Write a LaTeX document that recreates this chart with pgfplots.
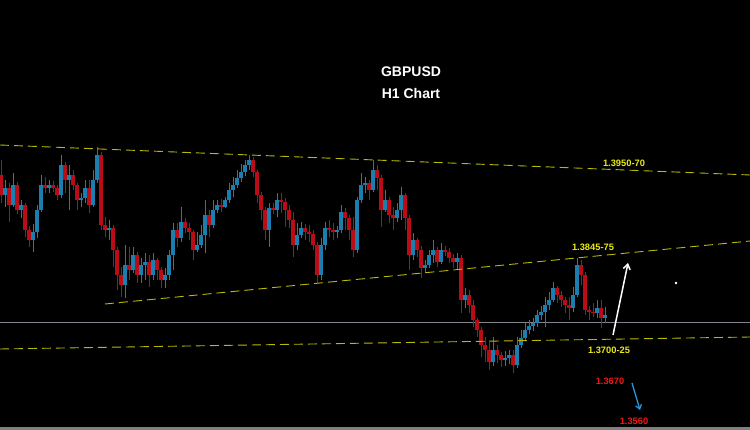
\documentclass[border=0pt]{standalone}
\usepackage{pgfplots}
\pgfplotsset{compat=1.18}
\usepackage{pgfplotstable}
\usepackage{fontspec}
\setmainfont{Liberation Sans}
\usetikzlibrary{arrows.meta}
\definecolor{cblue}{RGB}{28,125,175}
\definecolor{cred}{RGB}{185,12,22}
\definecolor{lyel}{RGB}{185,185,10}
\definecolor{tyel}{RGB}{235,235,20}
\definecolor{tred}{RGB}{235,25,25}
\definecolor{gline}{RGB}{130,132,140}
\definecolor{barrow}{RGB}{40,150,220}

\pgfplotstableread{
x o h l c
1 175 160 203 195
5 195 180 207 188
9 188 183 222 205
13 205 173 207 185
17 185 182 214 210
21 210 200 218 205
25 205 203 237 230
29 230 226 247 240
33 240 224 252 232
37 232 205 238 210
41 210 175 212 185
45 185 177 193 188
49 188 180 193 185
53 185 181 192 188
57 188 185 200 195
61 195 155 198 165
65 165 162 193 180
69 180 165 210 175
73 175 170 190 185
77 185 183 210 200
81 200 193 207 198
85 198 180 203 188
89 188 180 213 205
93 205 170 207 180
97 180 147 183 155
101 155 152 230 225
105 225 217 237 230
109 230 220 240 228
113 228 225 267 250
117 250 247 290 275
121 275 267 297 285
125 285 245 298 265
129 265 247 280 270
133 270 247 273 255
137 255 252 283 275
141 275 258 283 265
145 265 253 280 262
149 262 255 287 275
153 275 253 280 260
157 260 258 280 270
161 270 267 288 280
165 280 268 288 275
169 275 250 280 255
173 255 223 270 230
177 230 223 247 238
181 238 207 242 222
185 222 218 233 228
189 228 223 240 232
193 232 230 260 250
197 250 232 252 245
201 245 225 248 235
205 235 200 253 215
209 215 210 237 225
213 225 200 228 210
217 210 200 213 205
221 205 199 212 207
225 207 197 208 200
229 200 183 203 190
233 190 177 197 185
237 185 170 188 178
241 178 164 182 172
245 172 160 176 165
249 165 155 170 160
253 160 157 177 172
257 172 170 203 195
261 195 192 220 210
265 210 207 240 230
269 230 203 247 208
273 208 203 214 210
277 210 193 217 200
281 200 193 213 202
285 202 198 227 210
289 210 205 228 220
293 220 212 257 245
297 245 223 250 235
301 235 222 238 228
305 228 224 240 232
309 232 225 242 234
313 234 230 250 245
317 245 242 283 275
321 275 238 280 245
325 245 222 250 228
329 228 220 237 230
333 230 223 240 232
337 232 226 238 230
341 230 205 233 212
345 212 208 230 218
349 218 215 240 230
353 230 217 257 250
357 250 197 253 200
361 200 173 203 185
365 185 177 193 183
369 183 180 200 190
373 190 160 192 170
377 170 165 190 178
381 178 175 227 210
385 210 190 212 200
389 200 197 223 215
393 215 207 230 218
397 218 203 222 210
401 210 187 220 195
405 195 193 230 218
409 218 215 270 255
413 255 233 260 240
417 240 238 257 250
421 250 246 278 268
425 268 260 273 265
429 265 250 268 255
433 255 240 263 250
437 250 247 267 262
441 262 243 264 250
445 250 246 256 252
449 252 248 263 258
453 258 254 268 262
457 262 253 270 258
461 258 255 313 300
465 300 288 308 295
469 295 290 313 305
473 305 300 327 320
477 320 318 337 330
481 330 327 357 345
485 345 337 362 350
489 350 340 370 362
493 362 337 366 350
497 350 345 363 355
501 355 352 367 360
505 360 351 366 358
509 358 350 364 355
513 355 350 373 365
517 365 337 368 345
521 345 330 348 338
525 338 323 341 330
529 330 320 334 326
533 326 318 331 323
537 323 310 327 315
541 315 306 320 312
545 312 297 327 305
549 305 292 310 300
553 300 282 302 288
557 288 286 303 295
561 295 291 307 300
565 300 297 313 305
569 305 297 320 308
573 308 287 312 295
577 295 258 297 265
581 265 260 285 275
585 275 272 315 310
589 310 306 320 312
593 312 303 317 313
597 313 300 318 308
601 308 300 328 318
605 318 307 323 315
}\candles

\begin{document}
\begin{tikzpicture}
\begin{axis}[
  scale only axis, width=750pt, height=430pt,
  xmin=0, xmax=750, ymin=0, ymax=430, y dir=reverse,
  axis lines=none, ticks=none, clip=true,
]
\fill[black] (axis cs:0,0) rectangle (axis cs:750,430);
\fill[black!50] (axis cs:0,427) rectangle (axis cs:750,430);

% gray horizontal line
\addplot[gline, line width=0.8pt] coordinates {(0,322) (750,322)};

% wicks
\addplot[cblue, line width=1pt, quiver={u=0, v=\thisrow{l}-\thisrow{h}},
  restrict expr to domain={\thisrow{o}-\thisrow{c}}{0:1000}]
  table[x=x, y=h] {\candles};
\addplot[cred, line width=1pt, quiver={u=0, v=\thisrow{l}-\thisrow{h}},
  restrict expr to domain={\thisrow{o}-\thisrow{c}}{-1000:-0.001}]
  table[x=x, y=h] {\candles};
% bodies
\addplot[cblue, line width=3.1pt, line cap=butt, quiver={u=0, v=\thisrow{c}-\thisrow{o}},
  restrict expr to domain={\thisrow{o}-\thisrow{c}}{0:1000}]
  table[x=x, y=o] {\candles};
\addplot[cred, line width=3.1pt, line cap=butt, quiver={u=0, v=\thisrow{c}-\thisrow{o}},
  restrict expr to domain={\thisrow{o}-\thisrow{c}}{-1000:-0.001}]
  table[x=x, y=o] {\candles};

% trend lines
\addplot[lyel, line width=0.9pt, dash pattern=on 9pt off 5pt] coordinates {(0,145) (750,175)};
\addplot[lyel, line width=0.9pt, dash pattern=on 9pt off 5pt] coordinates {(105,304) (750,241)};
\addplot[lyel, line width=0.9pt, dash pattern=on 9pt off 5pt] coordinates {(0,349) (750,337)};

% arrows
\addplot[white, line width=1.5pt, -{Straight Barb[length=5pt,width=7pt]}] coordinates {(613,335) (628,263)};
\addplot[barrow, line width=1.3pt, -{Straight Barb[length=4pt,width=6pt]}] coordinates {(632,383) (640,410)};
\addplot[only marks, mark=*, mark size=1pt, white] coordinates {(676,283)};

% texts
\node[white, font=\fontsize{14}{15}\selectfont\bfseries] at (axis cs:411,72) {GBPUSD};
\node[white, font=\fontsize{14}{15}\selectfont\bfseries] at (axis cs:411,93) {H1 Chart};
\node[tyel, font=\fontsize{9.3}{10}\selectfont\bfseries] at (axis cs:624,163) {1.3950-70};
\node[tyel, font=\fontsize{9.3}{10}\selectfont\bfseries] at (axis cs:593,247) {1.3845-75};
\node[tyel, font=\fontsize{9.3}{10}\selectfont\bfseries] at (axis cs:609,350) {1.3700-25};
\node[tred, font=\fontsize{9.3}{10}\selectfont\bfseries] at (axis cs:610,381) {1.3670};
\node[tred, font=\fontsize{9.3}{10}\selectfont\bfseries] at (axis cs:634,421) {1.3560};
\end{axis}
\end{tikzpicture}
\end{document}
